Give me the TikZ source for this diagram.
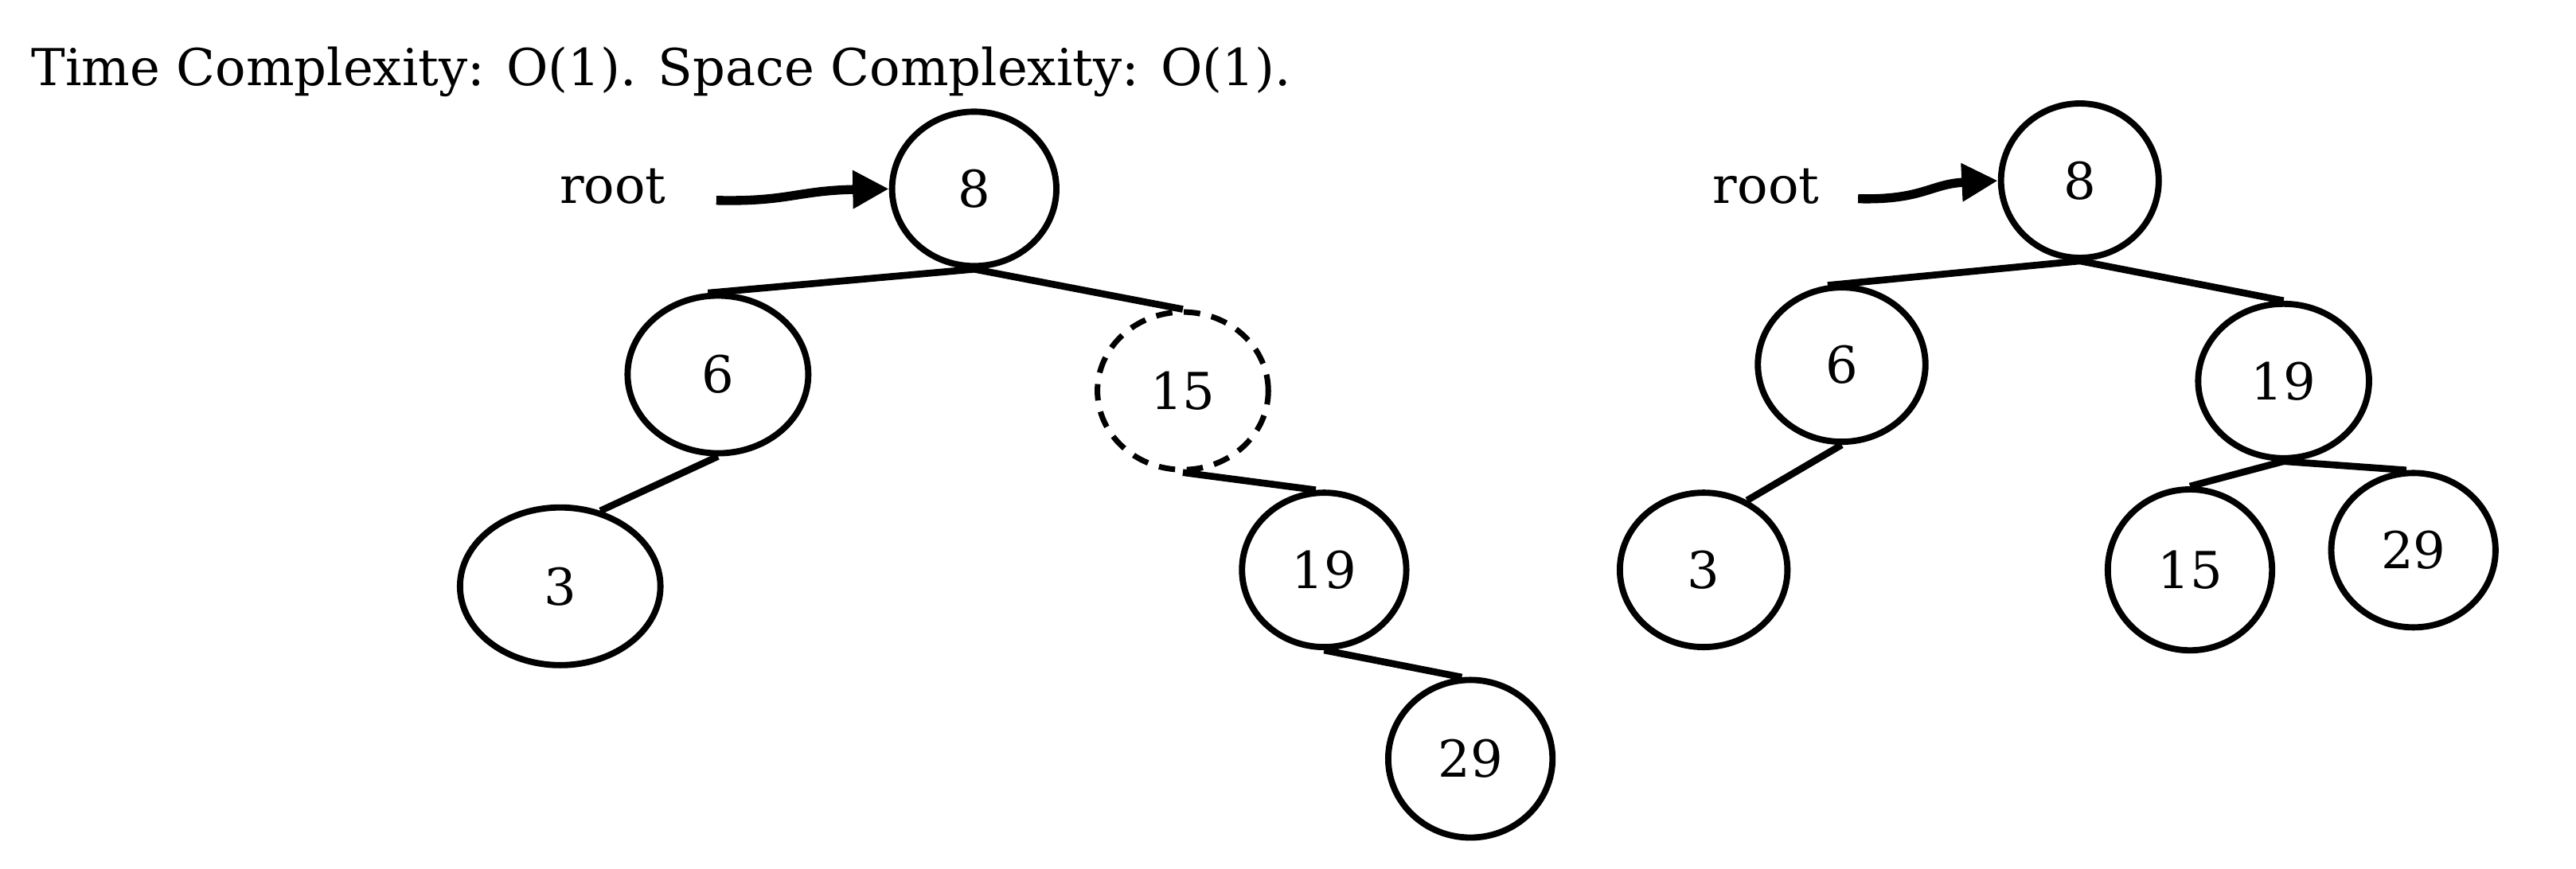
\documentclass[tikz,border=0pt]{standalone}
\usepackage{fontspec}
\setmainfont{DejaVu Serif}
\usetikzlibrary{shapes.geometric,arrows.meta}
\begin{document}
\begin{tikzpicture}[x=1pt,y=-1pt,
  tnode/.style={ellipse,draw,line width=3.8pt,inner sep=0pt,font=\fontsize{31}{36}\selectfont},
  ghost/.style={tnode,line width=3.4pt,dash pattern=on 10pt off 7pt},
  edge/.style={line width=4.2pt},
  rootlbl/.style={font=\fontsize{31}{36}\selectfont,anchor=base},
  rootarrow/.style={line width=5.5pt,-{Triangle[length=22pt,width=22pt]}},
  titlelbl/.style={font=\fontsize{31}{36}\selectfont,anchor=base west,inner sep=0pt}]
\useasboundingbox (0,0) rectangle (1568,529);
\fill[white] (0,0) rectangle (1568,529);

\node[titlelbl] (title) at (19,52) {Time Complexity: O(1). Space Complexity: O(1).};

% left tree
\node[tnode,minimum width=100pt,minimum height=94pt] (n8) at (593,115) {8};
\node[tnode,minimum width=110pt,minimum height=96pt] (n6) at (437,228) {6};
\node[ghost,minimum width=104pt,minimum height=96pt] (n15) at (720,238) {15};
\node[tnode,minimum width=122pt,minimum height=96pt] (n3) at (341,357) {3};
\node[tnode,minimum width=100pt,minimum height=94pt] (n19) at (806,347) {19};
\node[tnode,minimum width=100pt,minimum height=96pt] (n29) at (895,462) {29};
\node[rootlbl] (r1) at (373,124) {root};
\coordinate (a1) at (436,122);
\draw[rootarrow] (a1) .. controls (480,123) and (485,116) .. (n8.west);

\draw[edge] (n8.south) -- (n6.97);
\draw[edge] (n8.south) -- (n15.north);
\draw[edge] (n6.south) -- (n3.62);
\draw[edge] (n15.south) -- (n19.96);
\draw[edge] (n19.south) -- (n29.96);

% right tree
\node[tnode,minimum width=96pt,minimum height=94pt] (m8) at (1266,110) {8};
\node[tnode,minimum width=102pt,minimum height=94pt] (m6) at (1121,222) {6};
\node[tnode,minimum width=104pt,minimum height=94pt] (m19) at (1390,232) {19};
\node[tnode,minimum width=102pt,minimum height=94pt] (m3) at (1037,347) {3};
\node[tnode,minimum width=100pt,minimum height=98pt] (m15) at (1333,347) {15};
\node[tnode,minimum width=100pt,minimum height=94pt] (m29) at (1469,335) {29};
\node[rootlbl] (r2) at (1075,124) {root};
\coordinate (a2) at (1131,121);
\draw[rootarrow] (a2) .. controls (1170,122) and (1175,112) .. (m8.west);

\draw[edge] (m8.south) -- (m6.100);
\draw[edge] (m8.south) -- (m19.north);
\draw[edge] (m6.south) -- (m3.58);
\draw[edge] (m19.south) -- (m15.north);
\draw[edge] (m19.south) -- (m29.95);
\end{tikzpicture}
\end{document}
